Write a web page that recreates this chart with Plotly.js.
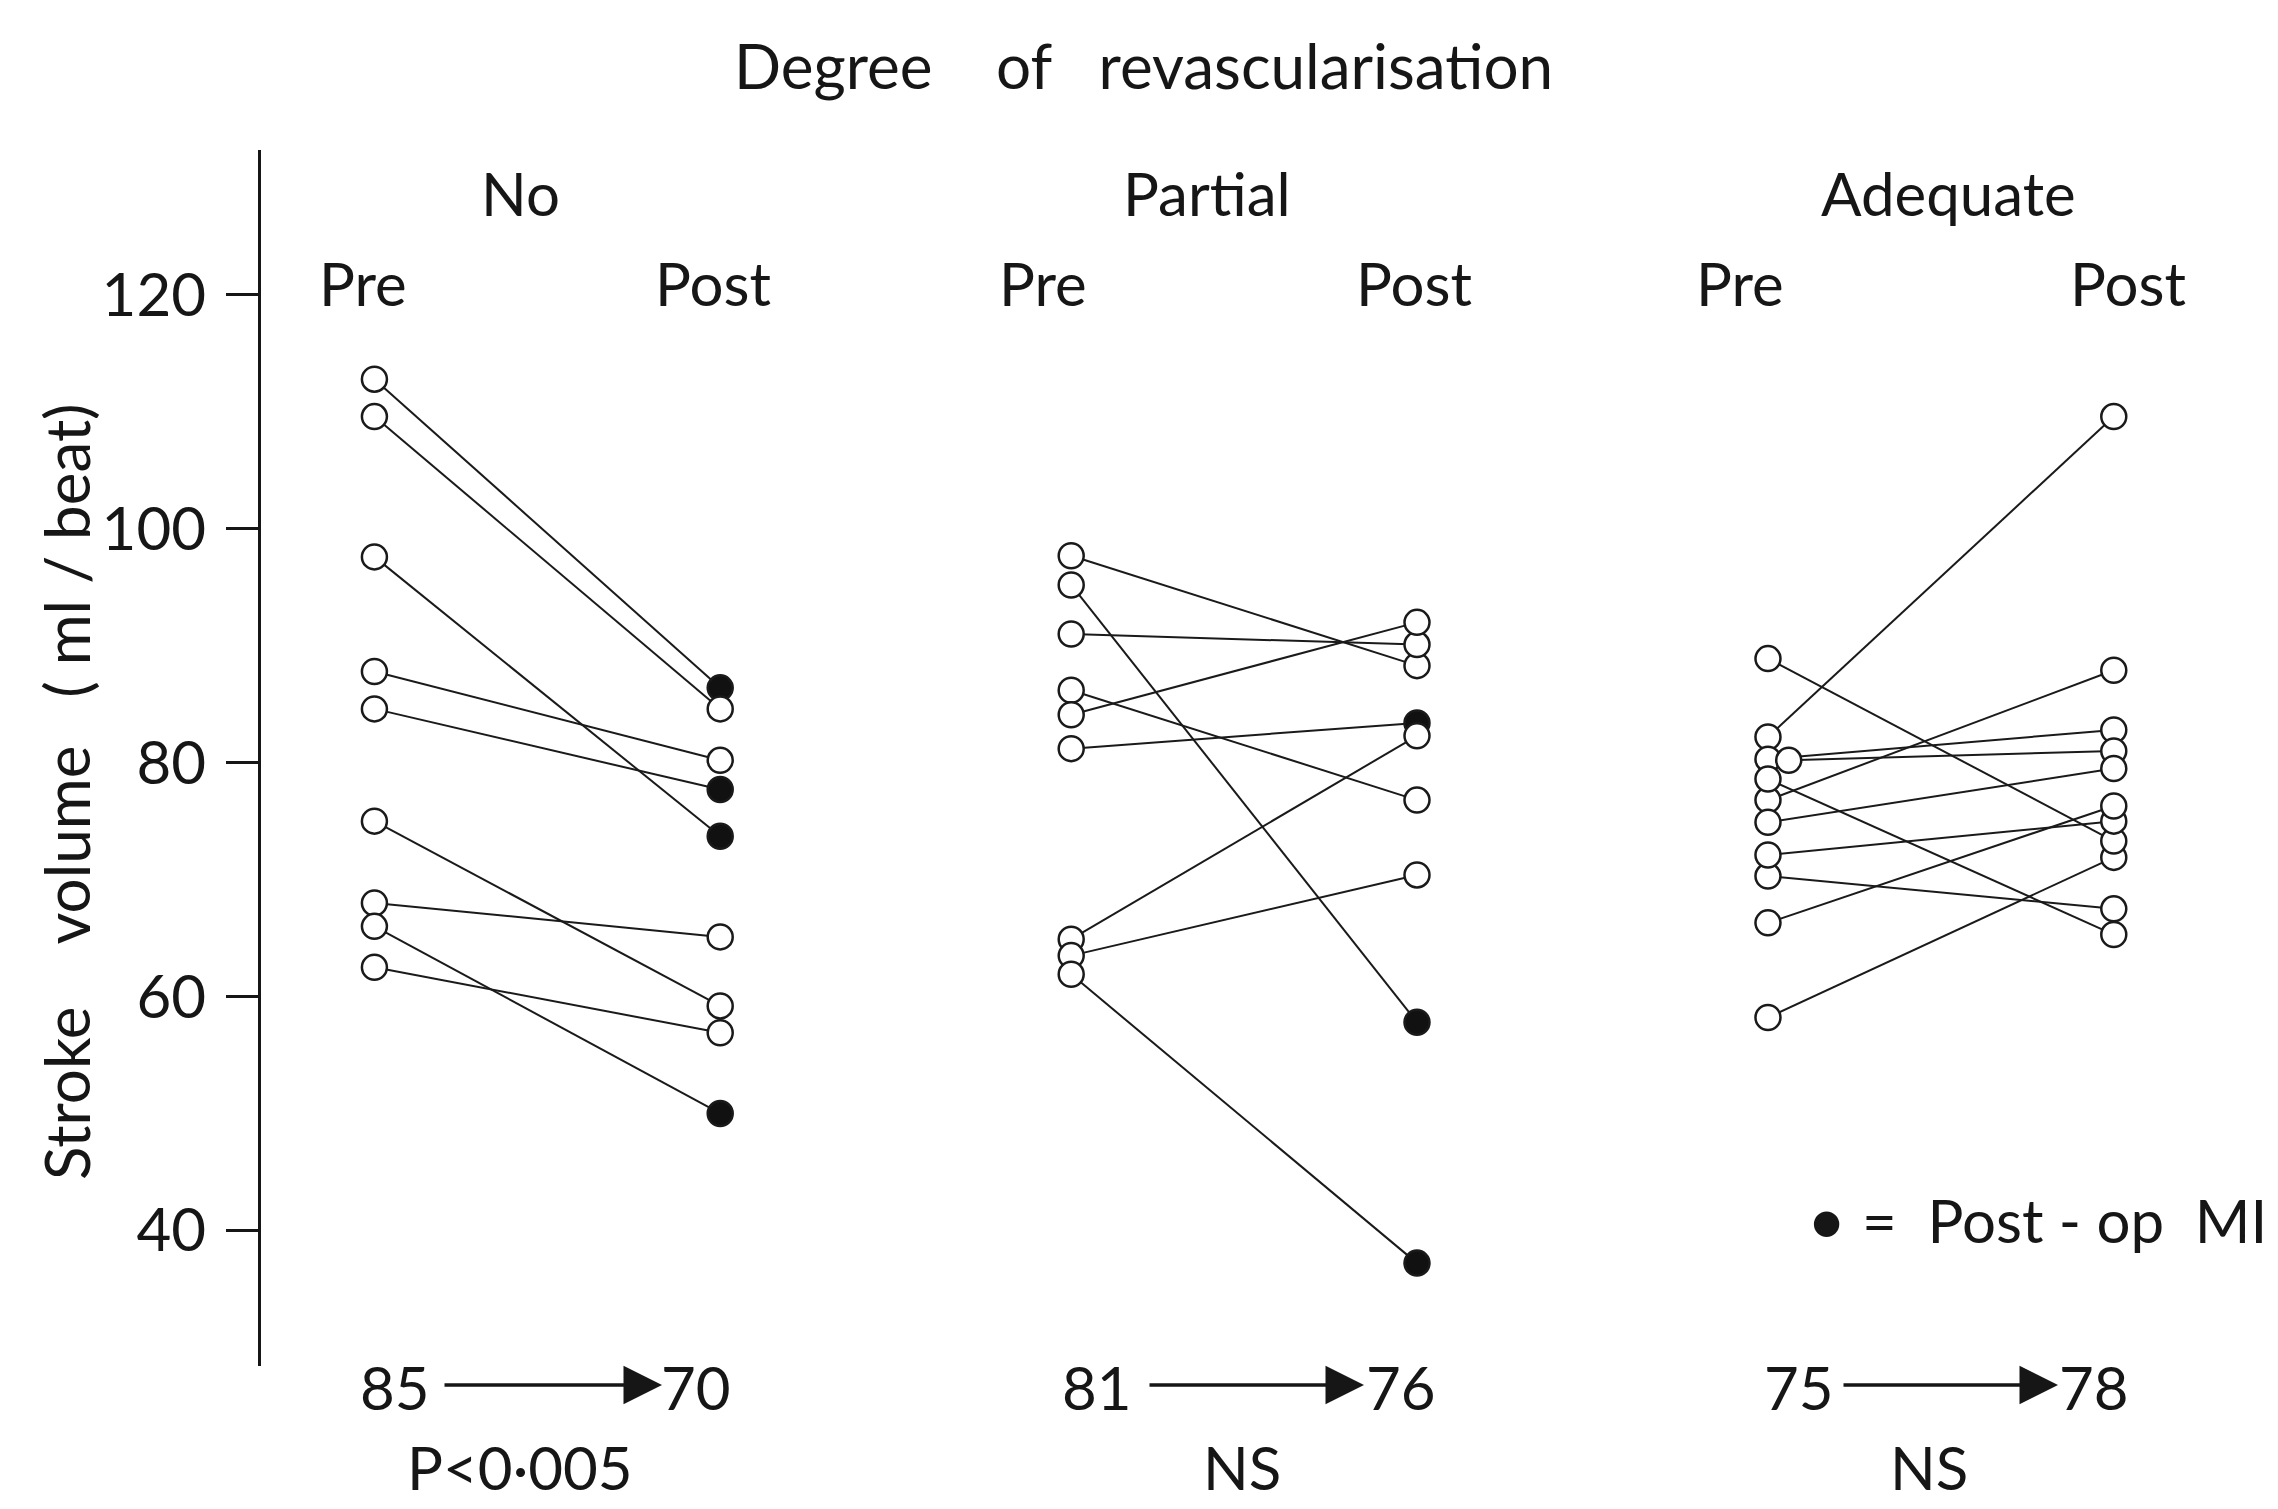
<!DOCTYPE html>
<html>
<head>
<meta charset="utf-8">
<script src="https://cdn.plot.ly/plotly-3.0.1.min.js"></script>
<style>html,body{margin:0;padding:0;background:#fff;}#chart{width:2278px;height:1509px;}</style>
</head>
<body>
<div id="chart"></div>
<script>
// ---- data (stroke volume, ml/beat) ----
const groups = ["No", "Partial", "Adequate"];
const phaseLabels = ["Pre", "Post"];

const noPre   = [112.8, 109.6, 97.6, 87.8, 84.6, 75.0, 68.0, 66.0, 62.5];
const noPost  = [86.4, 84.6, 73.7, 80.2, 77.7, 59.2, 65.1, 50.0, 56.9];
const noMI    = [1, 0, 1, 0, 1, 0, 0, 1, 0];

const partialPre  = [97.7, 95.2, 91.0, 86.2, 84.1, 81.2, 64.9, 63.5, 61.9];
const partialPost = [88.3, 57.8, 90.1, 76.8, 92.0, 83.4, 82.3, 70.4, 37.2];
const partialMI   = [0, 1, 0, 0, 0, 1, 0, 0, 1];

const adequatePre  = [82.2, 80.3, 80.2, 76.8, 78.6, 74.9, 70.3, 58.2, 88.9, 72.1, 66.3];
const adequatePost = [109.6, 82.8, 81.0, 87.9, 65.3, 79.5, 67.5, 71.9, 73.3, 75.0, 76.3];
const adequateMI   = [0, 0, 0, 0, 0, 0, 0, 0, 0, 0, 0];

const meanPre  = [85, 81, 75];
const meanPost = [70, 76, 78];
const pLabels  = ["P<0\u00B7005", "NS", "NS"];

const yTicks = [40, 60, 80, 100, 120];

// ---- layout helpers ----
const panelStep = 2.015;
const preJitter = {2: {2: 0.06}};   // slight sideways offset of one overlapping circle
const series = [
  {pre: noPre, post: noPost, mi: noMI},
  {pre: partialPre, post: partialPost, mi: partialMI},
  {pre: adequatePre, post: adequatePost, mi: adequateMI}
];

const traces = [];
series.forEach((s, g) => {
  const x0 = g * panelStep;
  const lx = [], ly = [];
  const mx = [], my = [], mc = [];
  s.pre.forEach((v, i) => {
    const jx = (preJitter[g] && preJitter[g][i]) ? preJitter[g][i] : 0;
    lx.push(x0 + jx, x0 + 1, null);
    ly.push(v, s.post[i], null);
    mx.push(x0 + jx); my.push(v); mc.push('#ffffff');
    mx.push(x0 + 1); my.push(s.post[i]); mc.push(s.mi[i] ? '#111111' : '#ffffff');
  });
  traces.push({x: lx, y: ly, mode: 'lines', type: 'scatter', hoverinfo: 'skip',
               line: {color: '#1a1a1a', width: 2}, showlegend: false, cliponaxis: false});
  traces.push({x: mx, y: my, mode: 'markers', type: 'scatter', showlegend: false, cliponaxis: false,
               marker: {size: 25, color: mc, line: {color: '#1a1a1a', width: 2.5}}});
});

// plot area in pixels
const L = 261, R = 2259, T = 150, B = 1366;
const px = x => (x - L) / (R - L);
const py = y => (B - y) / (B - T);
const FONT = 'Lato, "Open Sans", sans-serif';
const ink = '#161616';

const ann = [];
function txt(text, x, y, size, opts) {
  ann.push(Object.assign({text: text, x: px(x), y: py(y), xref: 'paper', yref: 'paper',
    showarrow: false, xanchor: 'center', yanchor: 'middle',
    font: {family: FONT, size: size, color: ink}}, opts || {}));
}
const sp = '\u00A0';
txt('Degree' + sp + sp + sp + ' of' + sp + sp + ' revascularisation', 1143, 65, 62);
txt('Stroke' + sp + sp + sp + ' volume' + sp + sp + ' (' + sp + 'ml' + sp + '/' + sp + 'beat)', 66, 792, 62, {textangle: -90});

const groupX = [520, 1207, 1948];
const preX = [363, 1043, 1740];
const postX = [713, 1414, 2128];
groups.forEach((gname, g) => {
  txt(gname, groupX[g], 193, 60);
  txt(phaseLabels[0], preX[g], 283, 60);
  txt(phaseLabels[1], postX[g], 283, 60);
});

const m1X = [395, 1097, 1799], m2X = [696, 1401, 2094];
const arrTail = [443, 1148, 1842], arrHead = [662, 1364, 2058];
const pX = [520, 1242, 1929];
for (let g = 0; g < 3; g++) {
  txt(String(meanPre[g]), m1X[g], 1387, 60);
  txt(String(meanPost[g]), m2X[g], 1387, 60);
  txt(pLabels[g], pX[g], 1467, 60);
  ann.push({x: px(arrHead[g]), y: py(1385), xref: 'paper', yref: 'paper', text: '',
            showarrow: true, arrowhead: 2, arrowsize: 2.2, arrowwidth: 3.5, arrowcolor: ink,
            ax: arrTail[g] - arrHead[g], ay: 0, axref: 'pixel', ayref: 'pixel', standoff: 0});
}
// legend note
txt('\u25CF', 1826, 1220, 52);
txt('=' + sp + ' Post' + sp + '-' + sp + 'op' + sp + ' MI', 1860, 1220, 60, {xanchor: 'left'});

const layout = {
  width: 2278, height: 1509,
  paper_bgcolor: '#ffffff', plot_bgcolor: '#ffffff',
  margin: {l: L, r: 2278 - R, t: T, b: 1509 - B, pad: 0},
  showlegend: false,
  xaxis: {range: [-0.328, 5.45], visible: false, fixedrange: true},
  yaxis: {range: [28.4, 132.4], tickvals: yTicks, ticktext: yTicks.map(String),
          ticks: 'outside', ticklen: 32, tickwidth: 3, tickcolor: ink,
          showline: true, linewidth: 3, linecolor: ink, showgrid: false, zeroline: false,
          ticklabelstandoff: 8,
          tickfont: {family: FONT, size: 60, color: ink}, fixedrange: true},
  annotations: ann
};

Plotly.newPlot('chart', traces, layout, {displayModeBar: false, staticPlot: true});
</script>
</body>
</html>
